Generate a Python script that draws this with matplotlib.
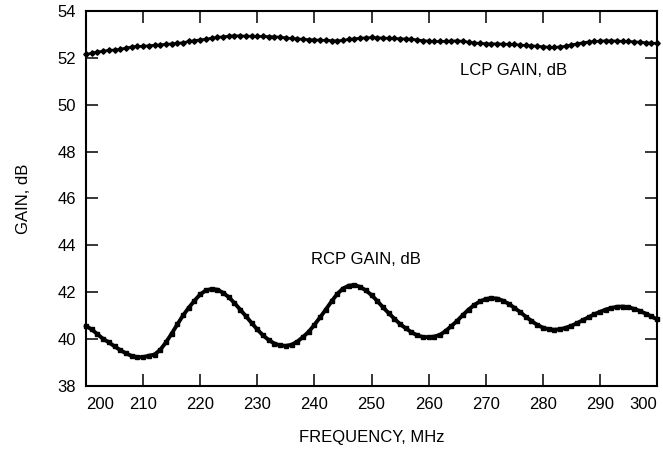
import numpy as np
import matplotlib
matplotlib.use("Agg")
import matplotlib.pyplot as plt

plt.rcParams['font.family'] = ['Liberation Sans', 'DejaVu Sans']

freq_mhz = list(range(200, 301))

lcp_gain_db = [
    52.15, 52.20, 52.25, 52.29, 52.32, 52.34, 52.37, 52.42, 52.47, 52.49,
    52.50, 52.52, 52.54, 52.56, 52.58, 52.60, 52.62, 52.65, 52.70, 52.74,
    52.77, 52.80, 52.84, 52.88, 52.90, 52.93, 52.95, 52.94, 52.93, 52.93,
    52.92, 52.92, 52.91, 52.90, 52.89, 52.86, 52.83, 52.81, 52.80, 52.78,
    52.77, 52.76, 52.75, 52.74, 52.73, 52.75, 52.79, 52.82, 52.84, 52.86,
    52.87, 52.86, 52.85, 52.84, 52.83, 52.82, 52.81, 52.80, 52.77, 52.74,
    52.72, 52.70, 52.70, 52.71, 52.72, 52.73, 52.71, 52.67, 52.64, 52.62,
    52.61, 52.60, 52.60, 52.59, 52.58, 52.57, 52.55, 52.53, 52.52, 52.50,
    52.48, 52.46, 52.45, 52.47, 52.50, 52.56, 52.60, 52.65, 52.68, 52.70,
    52.72, 52.73, 52.73, 52.72, 52.71, 52.70, 52.69, 52.67, 52.65, 52.63,
    52.62,
]

rcp_gain_db = [
    40.55, 40.40, 40.20, 40.00, 39.85, 39.68, 39.52, 39.38, 39.27, 39.22,
    39.22, 39.28, 39.33, 39.53, 39.85, 40.22, 40.62, 41.00, 41.33, 41.63,
    41.90, 42.07, 42.13, 42.10, 41.97, 41.78, 41.53, 41.25, 40.97, 40.68,
    40.40, 40.15, 39.95, 39.80, 39.72, 39.70, 39.75, 39.88, 40.08, 40.30,
    40.60, 40.92, 41.25, 41.60, 41.92, 42.15, 42.27, 42.30, 42.22, 42.07,
    41.87, 41.62, 41.35, 41.10, 40.86, 40.63, 40.45, 40.28, 40.15, 40.08,
    40.07, 40.10, 40.17, 40.34, 40.55, 40.77, 41.02, 41.25, 41.45, 41.60,
    41.70, 41.74, 41.72, 41.63, 41.50, 41.33, 41.15, 40.95, 40.77, 40.60,
    40.48, 40.41, 40.39, 40.41, 40.47, 40.56, 40.67, 40.80, 40.92, 41.05,
    41.15, 41.25, 41.32, 41.37, 41.38, 41.35, 41.28, 41.19, 41.08, 40.96,
    40.83,
]

x_ticks = [200, 210, 220, 230, 240, 250, 260, 270, 280, 290, 300]
y_ticks = [38, 40, 42, 44, 46, 48, 50, 52, 54]

fig = plt.figure(figsize=(6.63, 4.53), dpi=100)
ax = fig.add_axes([0.1297, 0.1486, 0.8613, 0.8271])

ax.plot(freq_mhz, lcp_gain_db, color='black', lw=1.8, marker='D', ms=2.8,
        mec='black', mfc='black', clip_on=False)
ax.plot(freq_mhz, rcp_gain_db, color='black', lw=2.8, marker='s', ms=3.2,
        mec='black', mfc='black', clip_on=False)

ax.set_xlim(200, 300)
ax.set_ylim(38, 54)
ax.set_xticks(x_ticks)
ax.set_xticklabels([str(v) for v in x_ticks])
ax.set_yticks(y_ticks)
ax.set_yticklabels([str(v) for v in y_ticks])

ax.tick_params(axis='both', direction='in', length=8.5, width=1.1,
               top=True, right=True, labelsize=12)
ax.tick_params(axis='x', pad=8)
ax.tick_params(axis='y', pad=7)

for t in (ax.xaxis.get_major_ticks()[0], ax.xaxis.get_major_ticks()[-1],
          ax.yaxis.get_major_ticks()[0], ax.yaxis.get_major_ticks()[-1]):
    t.tick1line.set_visible(False)
    t.tick2line.set_visible(False)

xl = ax.get_xticklabels()
xl[0].set_horizontalalignment('left')
xl[-1].set_horizontalalignment('right')

for s in ax.spines.values():
    s.set_linewidth(1.5)

ax.set_xlabel('FREQUENCY, MHz', fontsize=12, labelpad=13)
ax.set_ylabel('GAIN, dB', fontsize=12, labelpad=19)

ax.text(274.8, 51.45, 'LCP GAIN, dB', fontsize=12, ha='center', va='center')
ax.text(249.0, 43.38, 'RCP GAIN, dB', fontsize=12, ha='center', va='center')

fig.savefig('out.png', dpi=100)
